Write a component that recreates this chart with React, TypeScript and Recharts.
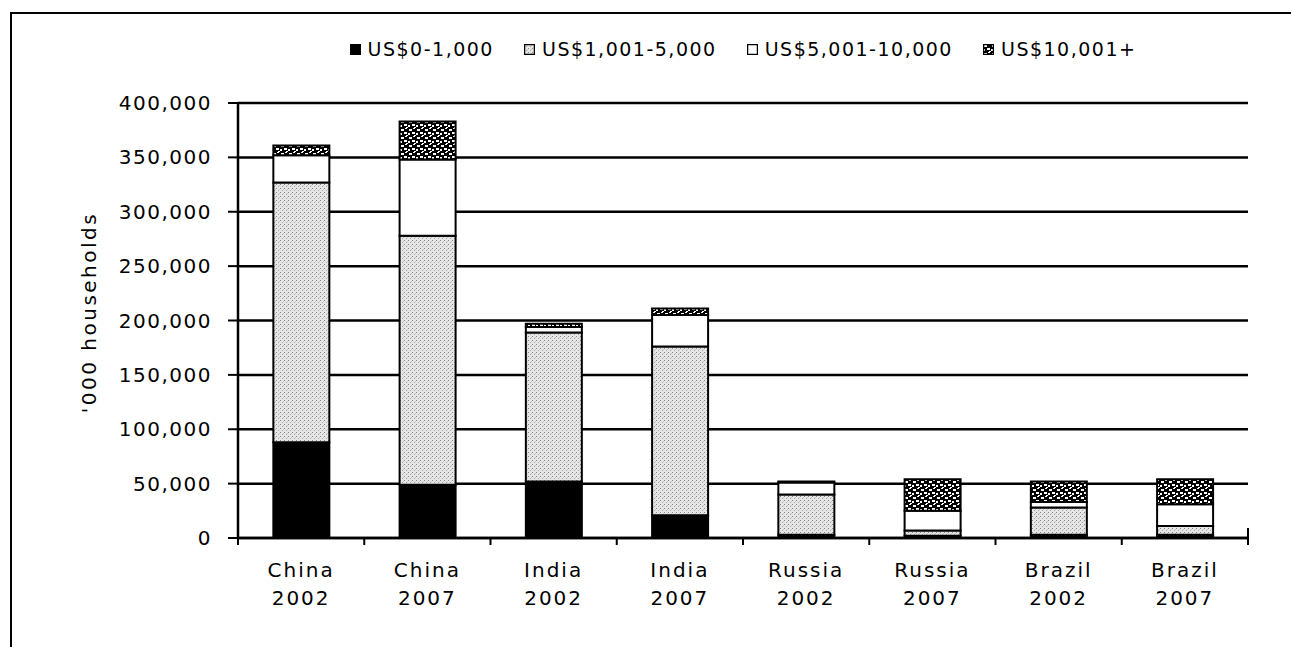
import React from 'react'
import {BarChart, Bar, XAxis, YAxis, CartesianGrid} from 'recharts'

// countries / survey years shown on the x axis
const countries = ['China', 'China', 'India', 'India', 'Russia', 'Russia', 'Brazil', 'Brazil']
const years = ['2002', '2007', '2002', '2007', '2002', '2007', '2002', '2007']

// '000 households by annual income band
const income0to1000 = [88000, 49000, 52000, 21000, 3000, 2000, 3000, 3000]
const income1001to5000 = [239000, 229000, 137000, 155000, 37000, 5000, 25000, 8000]
const income5001to10000 = [25000, 70000, 5000, 29000, 11000, 18000, 5000, 20000]
const income10001plus = [9000, 35000, 3000, 6000, 1000, 29000, 19000, 23000]

const yTicks = [0, 50000, 100000, 150000, 200000, 250000, 300000, 350000, 400000]

const seriesNames = ['US$0-1,000', 'US$1,001-5,000', 'US$5,001-10,000', 'US$10,001+']
const seriesKeys = ['band0', 'band1', 'band2', 'band3']
const seriesFills = ['#000', 'url(#stipple)', '#fff', 'url(#noise)']

const data = countries.map((c, i) => ({
  name: c + ' ' + years[i],
  band0: income0to1000[i],
  band1: income1001to5000[i],
  band2: income5001to10000[i],
  band3: income10001plus[i]
}))

const FONT = '"DejaVu Sans", "Liberation Sans", Arial, sans-serif'

const CountryTick = (props: any) => {
  const {x, y, payload, index} = props
  const off = payload && payload.offset ? payload.offset : 63
  const last = index === countries.length - 1
  return (
    <g>
      <line x1={x - off} y1={y} x2={x - off} y2={y + 7} stroke='#000' strokeWidth={2} />
      {last && <line x1={x + off} y1={y - 10} x2={x + off} y2={y + 7} stroke='#000' strokeWidth={2} />}
      <text x={x} y={y + 39} textAnchor='middle' fontFamily={FONT} fontSize={20} letterSpacing={2} fill='#000'>
        {countries[index]}
      </text>
      <text x={x} y={y + 67} textAnchor='middle' fontFamily={FONT} fontSize={20} letterSpacing={2} fill='#000'>
        {years[index]}
      </text>
    </g>
  )
}

const Patterns = () => (
  <svg width={0} height={0} style={{position: 'absolute'}}>
    <defs>
      <pattern id='stipple' width={4} height={4} patternUnits='userSpaceOnUse'>
        <rect width={4} height={4} fill='#e6e6e6' />
        <rect x={0} y={0} width={1} height={1} fill='#8a8a8a' />
        <rect x={2} y={2} width={1} height={1} fill='#a8a8a8' />
        <rect x={3} y={1} width={1} height={1} fill='#c8c8c8' />
      </pattern>
      <pattern id='noise' width={8} height={8} patternUnits='userSpaceOnUse'>
        <rect width={8} height={8} fill='#000' />
        <rect x={1} y={1} width={3} height={2} fill='#fff' />
        <rect x={5} y={0} width={2} height={1} fill='#fff' />
        <rect x={0} y={5} width={2} height={2} fill='#fff' />
        <rect x={4} y={4} width={3} height={2} fill='#fff' />
        <rect x={6} y={7} width={2} height={1} fill='#fff' />
      </pattern>
    </defs>
  </svg>
)

const Legend = () => (
  <div
    style={{
      position: 'absolute',
      top: 38,
      left: 238,
      width: 1010,
      display: 'flex',
      justifyContent: 'center',
      fontFamily: FONT,
      fontSize: 19,
      letterSpacing: 1.5,
      lineHeight: '22px',
      color: '#000'
    }}
  >
    {seriesNames.map((n, i) => (
      <div key={n} style={{display: 'flex', alignItems: 'center', marginRight: i < 3 ? 30 : 0}}>
        <svg width={11} height={11} style={{marginRight: 7}}>
          <rect x={0.5} y={0.5} width={10} height={10} fill={seriesFills[i]} stroke='#000' strokeWidth={1.5} />
        </svg>
        <span>{n}</span>
      </div>
    ))}
  </div>
)

export default function App() {
  return (
    <div style={{position: 'fixed', left: 0, top: 0, width: 1291, height: 647, background: '#fff', overflow: 'hidden'}}>
      <Patterns />
      <div style={{position: 'absolute', left: 10, top: 12, right: 0, bottom: 0, borderLeft: '2px solid #000', borderTop: '2px solid #000'}} />
      <Legend />
      <div style={{position: 'absolute', left: 0, top: 0}}>
        <BarChart width={1291} height={647} data={data} margin={{top: 103, right: 43, bottom: 49, left: 60}} barCategoryGap='28%'>
          <CartesianGrid vertical={false} stroke='#000' strokeWidth={2.5} />
          <XAxis
            dataKey='name'
            height={60}
            interval={0}
            tickLine={false}
            tickSize={0}
            tickMargin={0}
            axisLine={{stroke: '#000', strokeWidth: 2.5}}
            tick={<CountryTick />}
          />
          <YAxis
            width={178}
            domain={[0, 400000]}
            ticks={yTicks}
            interval={0}
            tickFormatter={(v: number) => v.toLocaleString('en-US')}
            tickSize={10}
            tickMargin={16}
            tickLine={{stroke: '#000', strokeWidth: 2}}
            axisLine={{stroke: '#000', strokeWidth: 2.5}}
            tick={{fill: '#000', fontFamily: FONT, fontSize: 20, letterSpacing: 1.5}}
            label={{
              value: "'000 households",
              angle: -90,
              position: 'insideLeft',
              content: (p: any) => {
                const vb = p.viewBox
                const cx = vb.x + 29
                const cy = vb.y + vb.height / 2 - 8
                return (
                  <text
                    x={cx}
                    y={cy}
                    transform={`rotate(-90 ${cx} ${cy})`}
                    textAnchor='middle'
                    dominantBaseline='central'
                    fontFamily={FONT}
                    fontSize={20}
                    letterSpacing={2.5}
                    fill='#000'
                  >
                    '000 households
                  </text>
                )
              }
            }}
          />
          <YAxis yAxisId='edge' orientation='right' width={0} domain={[0, 400000]} tick={false} tickLine={false} axisLine={{stroke: '#000', strokeWidth: 2.5}} />
          {seriesKeys.map((k, i) => (
            <Bar key={k} dataKey={k} name={seriesNames[i]} stackId='a' fill={seriesFills[i]} stroke='#000' strokeWidth={2} isAnimationActive={false} />
          ))}
        </BarChart>
      </div>
    </div>
  )
}
